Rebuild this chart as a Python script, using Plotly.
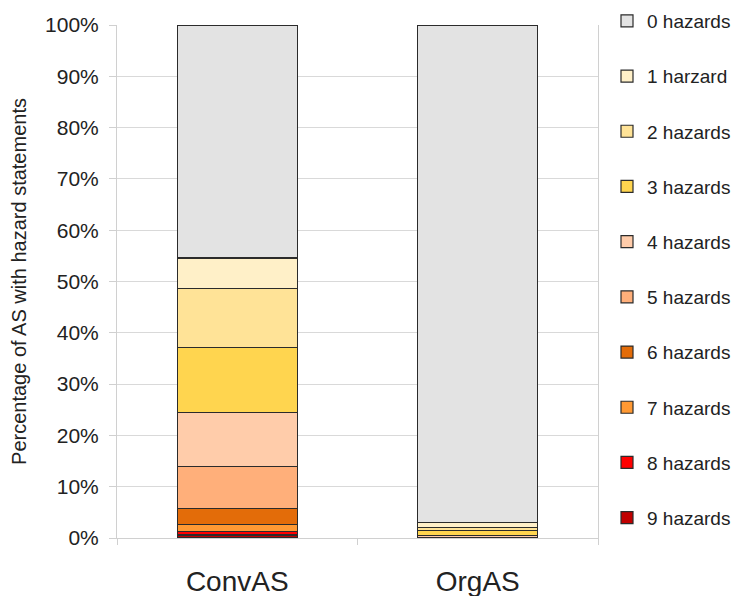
import plotly.graph_objects as go

categories = ["ConvAS", "OrgAS"]
series_names = ["0 hazards", "1 harzard", "2 hazards", "3 hazards", "4 hazards",
                "5 hazards", "6 hazards", "7 hazards", "8 hazards", "9 hazards"]
# percentages, index = number of hazards
conv_values = [45.4, 5.9, 11.5, 12.8, 10.4, 8.25, 3.15, 1.3, 0.7, 0.6]
org_values = [97.0, 0.9, 0.7, 0.9, 0.5, 0.0, 0.0, 0.0, 0.0, 0.0]
colors = ["#E3E3E3", "#FFF0C8", "#FFE397", "#FFD54F", "#FFCCAA",
          "#FFAF7A", "#E36C09", "#FF9933", "#FF0000", "#C00000"]
y_ticks = list(range(0, 101, 10))
y_ticktext = [f"{v}%" for v in y_ticks]

FONT = "Arial, Liberation Sans, sans-serif"
# page body has an 8px margin, so the figure is sized to fill the rest of the window
W, H = 735, 588
fig = go.Figure()
# stack from 9 hazards (bottom) to 0 hazards (top)
for i in reversed(range(len(series_names))):
    lg = "legend" if i == 0 else f"legend{i + 1}"
    fig.add_trace(go.Bar(
        x=categories, y=[conv_values[i], org_values[i]], name=series_names[i],
        marker=dict(color=colors[i], line=dict(color="#2b2b2b", width=1.2)),
        width=0.5, legend=lg,
    ))

legend_layout = {}
for i in range(len(series_names)):
    key = "legend" if i == 0 else f"legend{i + 1}"
    y_px = 13 + 55.2 * i
    legend_layout[key] = dict(
        xref="container", yref="container",
        x=599 / W, xanchor="left", y=1 - y_px / H, yanchor="middle",
        font=dict(size=19, family=FONT, color="#222222"),
        itemwidth=30, bgcolor="rgba(0,0,0,0)", borderwidth=0,
    )

fig.update_layout(
    barmode="stack",
    width=W, height=H,
    margin=dict(l=109, r=145, t=17, b=58),
    paper_bgcolor="white", plot_bgcolor="white",
    font=dict(family=FONT, color="#222222"),
    showlegend=True,
    **legend_layout,
)
fig.update_yaxes(
    range=[0, 100], tickvals=y_ticks, ticktext=y_ticktext,
    showgrid=True, gridcolor="#D9D9D9", gridwidth=1,
    showline=True, linecolor="#D0D0D0", linewidth=1, mirror=True,
    ticks="outside", ticklen=7, tickcolor="#D0D0D0",
    tickfont=dict(size=21, family=FONT, color="#222222"),
    ticklabelstandoff=6, automargin=False,
    title=dict(text="Percentage of AS with hazard statements",
               font=dict(size=20, family=FONT, color="#222222"), standoff=14),
    zeroline=False,
)
fig.update_xaxes(
    showline=True, linecolor="#D0D0D0", linewidth=1,
    ticks="outside", tickson="boundaries", ticklen=6, tickcolor="#D0D0D0",
    tickfont=dict(size=28, family=FONT, color="#222222"),
    ticklabelstandoff=18, automargin=False,
)

fig.write_html("out.html")
